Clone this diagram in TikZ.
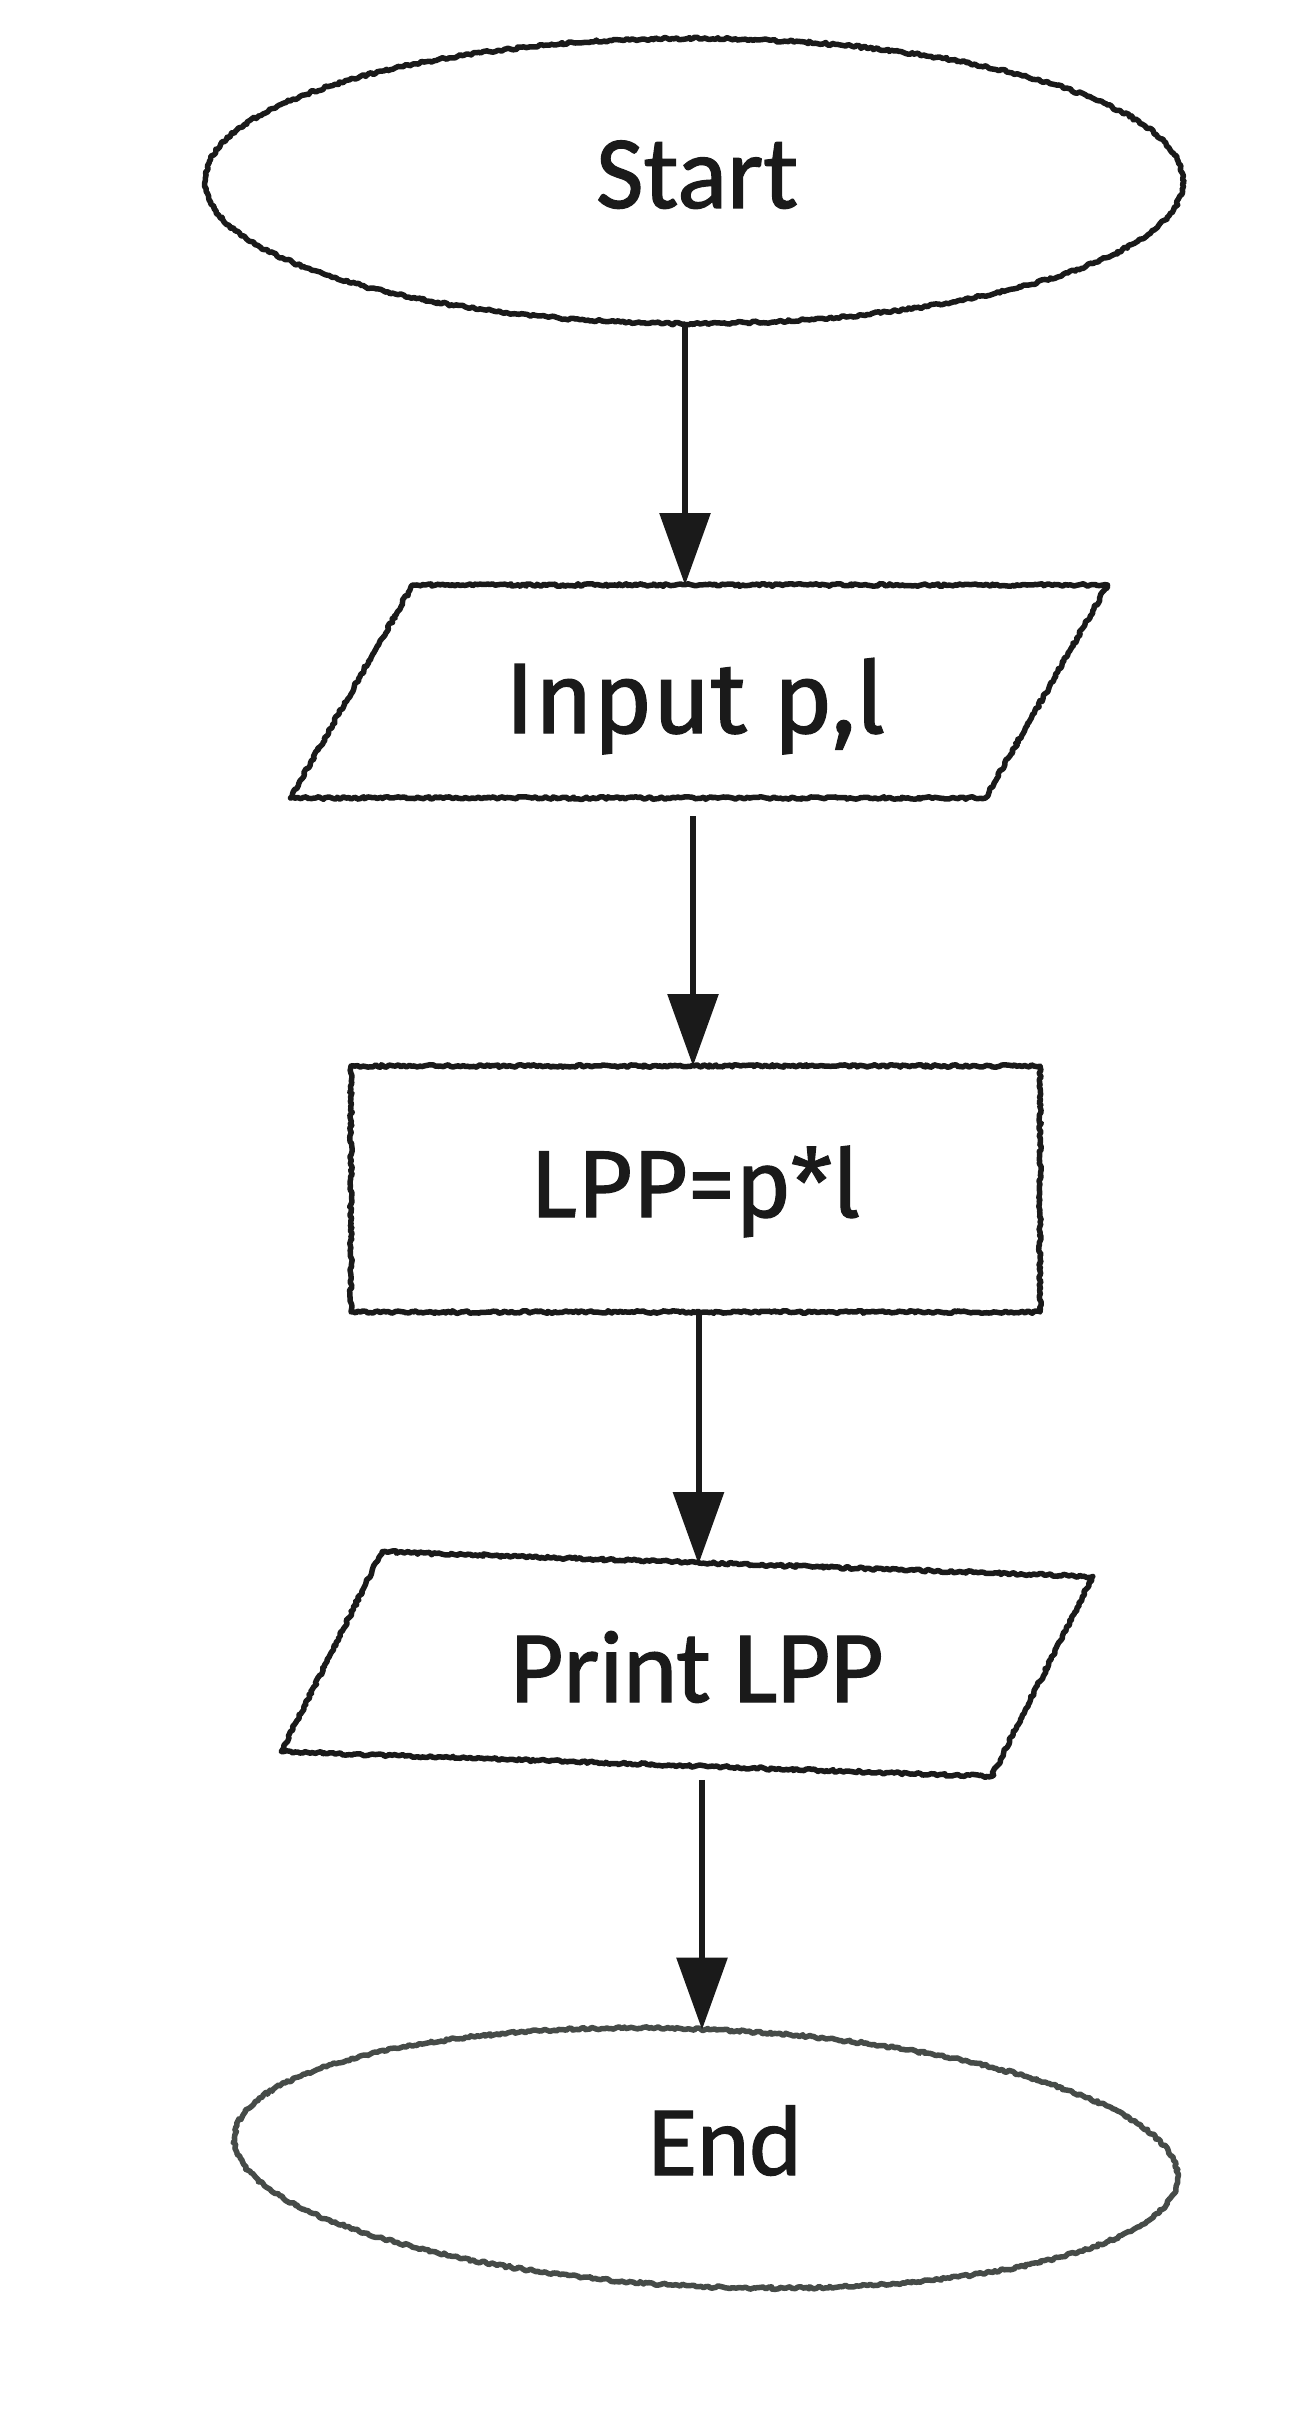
\documentclass[tikz,border=0pt]{standalone}
\usepackage{fontspec}
\setmainfont{Carlito}
\newfontfamily\carl[FakeBold=1.2]{Carlito}
\newfontfamily\firaf[FakeBold=1.2]{Fira Sans}
\usetikzlibrary{shapes.geometric,arrows.meta,decorations.pathmorphing}
\definecolor{ink}{HTML}{1A1A1A}
\definecolor{inkgray}{HTML}{464B48}
\begin{document}
\pgfmathsetseed{7}
\begin{tikzpicture}[x=1pt,y=-1pt,
  rough/.style={decorate, decoration={random steps, segment length=2.5pt, amplitude=1.3pt}},
  shapeline/.style={draw=ink, line width=5.5pt, line join=round},
  arr/.style={draw=ink, line width=6pt, -{Triangle[length=72pt,width=50pt]}},
  box/.style={inner sep=0pt, outer sep=0pt},
  lbl/.style={anchor=base, inner sep=0pt, text=ink}]
\useasboundingbox[fill=white] (0,0) rectangle (1289,2416);

% shapes
\node[box, ellipse, shapeline, rough, minimum width=978pt, minimum height=285pt] (start) at (694,181) {};
\node[box, minimum width=695pt, minimum height=213pt] (in) at (699,691.5) {};
\draw[shapeline, rough] ([xshift=61pt]in.north west) -- ([xshift=61pt]in.north east)
   -- ([xshift=-61pt]in.south east) -- ([xshift=-61pt]in.south west) -- cycle;
\node[box, rectangle, shapeline, rough, minimum width=689pt, minimum height=246pt] (lpp) at (695.5,1189) {};
\node[box, minimum width=711pt, minimum height=200pt, rotate=-2] (print) at (687,1664) {};
\draw[shapeline, rough] ([xshift=47pt]print.north west) -- ([xshift=47pt]print.north east)
   -- ([xshift=-47pt]print.south east) -- ([xshift=-47pt]print.south west) -- cycle;
\node[box, ellipse, shapeline, draw=inkgray, rough, minimum width=944pt, minimum height=257pt, rotate=-2.5] (end) at (706,2158) {};

% texts
\node[lbl, font=\carl\fontsize{104}{110}\selectfont] (tStart) at (697,208) {Start};
\node[lbl, font=\firaf\fontsize{100}{110}\selectfont] (tIn) at (695,733) {Input p,l};
\node[lbl, font=\firaf\fontsize{95}{110}\selectfont] (tLpp) at (695,1217) {LPP=p*l};
\node[lbl, font=\carl\fontsize{103}{110}\selectfont] (tPrint) at (697,1702) {Print LPP};
\node[lbl, font=\carl\fontsize{100}{110}\selectfont] (tEnd) at (725,2175) {End};

% connectors
\draw[arr] ([xshift=-9pt]start.south) -- ([xshift=-9pt]start.south |- in.north);
\draw[arr, shorten <=18pt] ([xshift=-6pt]in.south) -- ([xshift=-6pt]in.south |- lpp.north);
\draw[arr] ([xshift=3pt]lpp.south) -- ([xshift=3pt]lpp.south |- print.north);
\draw[arr, shorten <=16pt] ([xshift=18.5pt]print.south) -- ([xshift=18.5pt]print.south |- end.north);
\end{tikzpicture}
\end{document}
